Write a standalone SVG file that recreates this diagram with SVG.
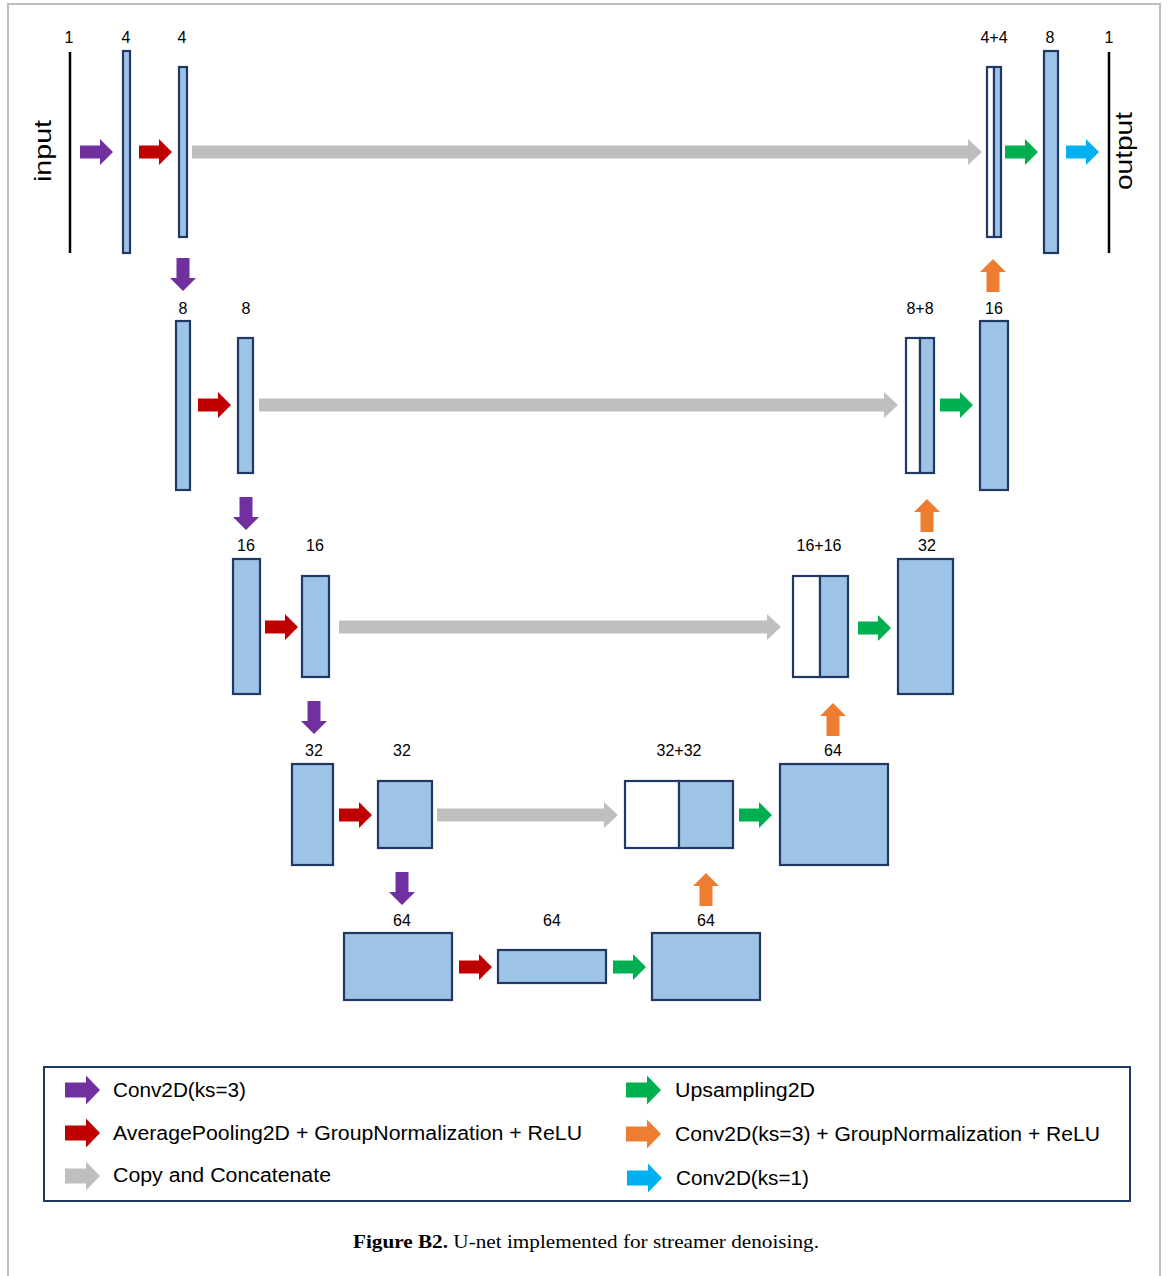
<svg xmlns="http://www.w3.org/2000/svg" width="1167" height="1276" viewBox="0 0 1167 1276">
<style>
.blk{fill:#9DC3E6;stroke:#1F3864;stroke-width:2.2}
.wht{fill:#FFFFFF;stroke:#1F3864;stroke-width:2.2}
.lbl{font-family:"Liberation Sans",Arial,sans-serif;font-size:16px;fill:#000;text-anchor:middle}
.io{font-family:"Liberation Sans",Arial,sans-serif;font-size:24px;fill:#000;text-anchor:middle}
.leg{font-family:"Liberation Sans",Arial,sans-serif;font-size:20px;fill:#000}
.pur{fill:#7030A0}.red{fill:#C00000}.gry{fill:#BFBFBF}.grn{fill:#00B050}.org{fill:#ED7D31}.cyn{fill:#00B0F0}
</style>
<defs>
<path id="a" d="M-33,-6.5 H-13 V-13 L0,0 L-13,13 V6.5 H-33 Z"/>
<path id="la" d="M-35,-7.5 H-14 V-14.5 L0,0 L-14,14.5 V7.5 H-35 Z"/>
</defs>
<rect width="1167" height="1276" fill="#FFFFFF"/>
<path d="M8,1276 V4 H1160 V1276" fill="none" stroke="#A6A6A6" stroke-width="1.5"/>

<g id="input">
<line x1="70" y1="52" x2="70" y2="253" stroke="#000" stroke-width="2.5"/>
<text class="lbl" x="69" y="43">1</text>
<text class="io" transform="translate(51,151) rotate(-90)" textLength="62" lengthAdjust="spacingAndGlyphs">input</text>
</g>
<g id="enc1a"><rect class="blk" x="123" y="51" width="7" height="202"/><text class="lbl" x="126" y="43">4</text></g>
<g id="enc1b"><rect class="blk" x="179" y="67" width="8" height="170"/><text class="lbl" x="182" y="43">4</text></g>
<g id="dec1cat"><rect class="wht" x="987" y="67" width="7" height="170"/><rect class="blk" x="994" y="67" width="7" height="170"/><text class="lbl" x="994" y="43">4+4</text></g>
<g id="dec1"><rect class="blk" x="1044" y="51" width="14" height="202"/><text class="lbl" x="1050" y="43">8</text></g>
<g id="output">
<line x1="1109" y1="52" x2="1109" y2="253" stroke="#000" stroke-width="2.5"/>
<text class="lbl" x="1109" y="43">1</text>
<text class="io" transform="translate(1132,151) rotate(-90)" textLength="78" lengthAdjust="spacingAndGlyphs">output</text>
</g>

<g id="enc2a"><rect class="blk" x="176" y="321" width="14" height="169"/><text class="lbl" x="183" y="314">8</text></g>
<g id="enc2b"><rect class="blk" x="238" y="338" width="15" height="135"/><text class="lbl" x="246" y="314">8</text></g>
<g id="dec2cat"><rect class="wht" x="906" y="338" width="14" height="135"/><rect class="blk" x="920" y="338" width="14" height="135"/><text class="lbl" x="920" y="314">8+8</text></g>
<g id="dec2"><rect class="blk" x="980" y="321" width="28" height="169"/><text class="lbl" x="994" y="314">16</text></g>

<g id="enc3a"><rect class="blk" x="233" y="559" width="27" height="135"/><text class="lbl" x="246" y="551">16</text></g>
<g id="enc3b"><rect class="blk" x="302" y="576" width="27" height="101"/><text class="lbl" x="315" y="551">16</text></g>
<g id="dec3cat"><rect class="wht" x="793" y="576" width="27" height="101"/><rect class="blk" x="820" y="576" width="28" height="101"/><text class="lbl" x="819" y="551">16+16</text></g>
<g id="dec3"><rect class="blk" x="898" y="559" width="55" height="135"/><text class="lbl" x="927" y="551">32</text></g>

<g id="enc4a"><rect class="blk" x="292" y="764" width="41" height="101"/><text class="lbl" x="314" y="756">32</text></g>
<g id="enc4b"><rect class="blk" x="378" y="781" width="54" height="67"/><text class="lbl" x="402" y="756">32</text></g>
<g id="dec4cat"><rect class="wht" x="625" y="781" width="54" height="67"/><rect class="blk" x="679" y="781" width="54" height="67"/><text class="lbl" x="679" y="756">32+32</text></g>
<g id="dec4"><rect class="blk" x="780" y="764" width="108" height="101"/><text class="lbl" x="833" y="756">64</text></g>

<g id="bot1"><rect class="blk" x="344" y="933" width="108" height="67"/><text class="lbl" x="402" y="926">64</text></g>
<g id="bot2"><rect class="blk" x="498" y="950" width="108" height="33"/><text class="lbl" x="552" y="926">64</text></g>
<g id="bot3"><rect class="blk" x="652" y="933" width="108" height="67"/><text class="lbl" x="706" y="926">64</text></g>

<g id="connectors">
<use href="#a" class="pur" transform="translate(113,152)"/>
<use href="#a" class="red" transform="translate(172,152)"/>
<path class="gry" d="M192,145.5 H968 V139 L982,152 L968,165 V158.5 H192 Z"/>
<use href="#a" class="grn" transform="translate(1038,152)"/>
<use href="#a" class="cyn" transform="translate(1099,152)"/>
<use href="#a" class="pur" transform="translate(183,291) rotate(90)"/>
<use href="#a" class="org" transform="translate(993,259) rotate(-90)"/>

<use href="#a" class="red" transform="translate(231,405)"/>
<path class="gry" d="M259,398.5 H884 V392 L898,405 L884,418 V411.5 H259 Z"/>
<use href="#a" class="grn" transform="translate(973,405)"/>
<use href="#a" class="pur" transform="translate(246,530) rotate(90)"/>
<use href="#a" class="org" transform="translate(927,499) rotate(-90)"/>

<use href="#a" class="red" transform="translate(298,627)"/>
<path class="gry" d="M339,620.5 H767 V614 L781,627 L767,640 V633.5 H339 Z"/>
<use href="#a" class="grn" transform="translate(891,628)"/>
<use href="#a" class="pur" transform="translate(314,734) rotate(90)"/>
<use href="#a" class="org" transform="translate(833,703) rotate(-90)"/>

<use href="#a" class="red" transform="translate(372,815)"/>
<path class="gry" d="M437,808.5 H604 V802 L618,815 L604,828 V821.5 H437 Z"/>
<use href="#a" class="grn" transform="translate(772,815)"/>
<use href="#a" class="pur" transform="translate(402,905) rotate(90)"/>
<use href="#a" class="org" transform="translate(706,873) rotate(-90)"/>

<use href="#a" class="red" transform="translate(492,967)"/>
<use href="#a" class="grn" transform="translate(646,967)"/>
</g>

<g id="legend">
<rect x="44" y="1067" width="1086" height="134" fill="#FFFFFF" stroke="#1F3864" stroke-width="2"/>
<use href="#la" class="pur" transform="translate(100,1090)"/>
<text class="leg" x="113" y="1097" textLength="133" lengthAdjust="spacingAndGlyphs">Conv2D(ks=3)</text>
<use href="#la" class="red" transform="translate(100,1133)"/>
<text class="leg" x="113" y="1140" textLength="469" lengthAdjust="spacingAndGlyphs">AveragePooling2D + GroupNormalization + ReLU</text>
<use href="#la" class="gry" transform="translate(100,1176)"/>
<text class="leg" x="113" y="1182" textLength="218" lengthAdjust="spacingAndGlyphs">Copy and Concatenate</text>
<use href="#la" class="grn" transform="translate(661,1090)"/>
<text class="leg" x="675" y="1097" textLength="140" lengthAdjust="spacingAndGlyphs">Upsampling2D</text>
<use href="#la" class="org" transform="translate(661,1134)"/>
<text class="leg" x="675" y="1141" textLength="425" lengthAdjust="spacingAndGlyphs">Conv2D(ks=3) + GroupNormalization + ReLU</text>
<use href="#la" class="cyn" transform="translate(662,1178)"/>
<text class="leg" x="676" y="1185" textLength="133" lengthAdjust="spacingAndGlyphs">Conv2D(ks=1)</text>
</g>

<text x="353" y="1248" font-family="'Liberation Serif','Times New Roman',serif" font-size="19" fill="#000" textLength="466" lengthAdjust="spacingAndGlyphs"><tspan font-weight="bold">Figure B2.</tspan> U-net implemented for streamer denoising.</text>
</svg>
